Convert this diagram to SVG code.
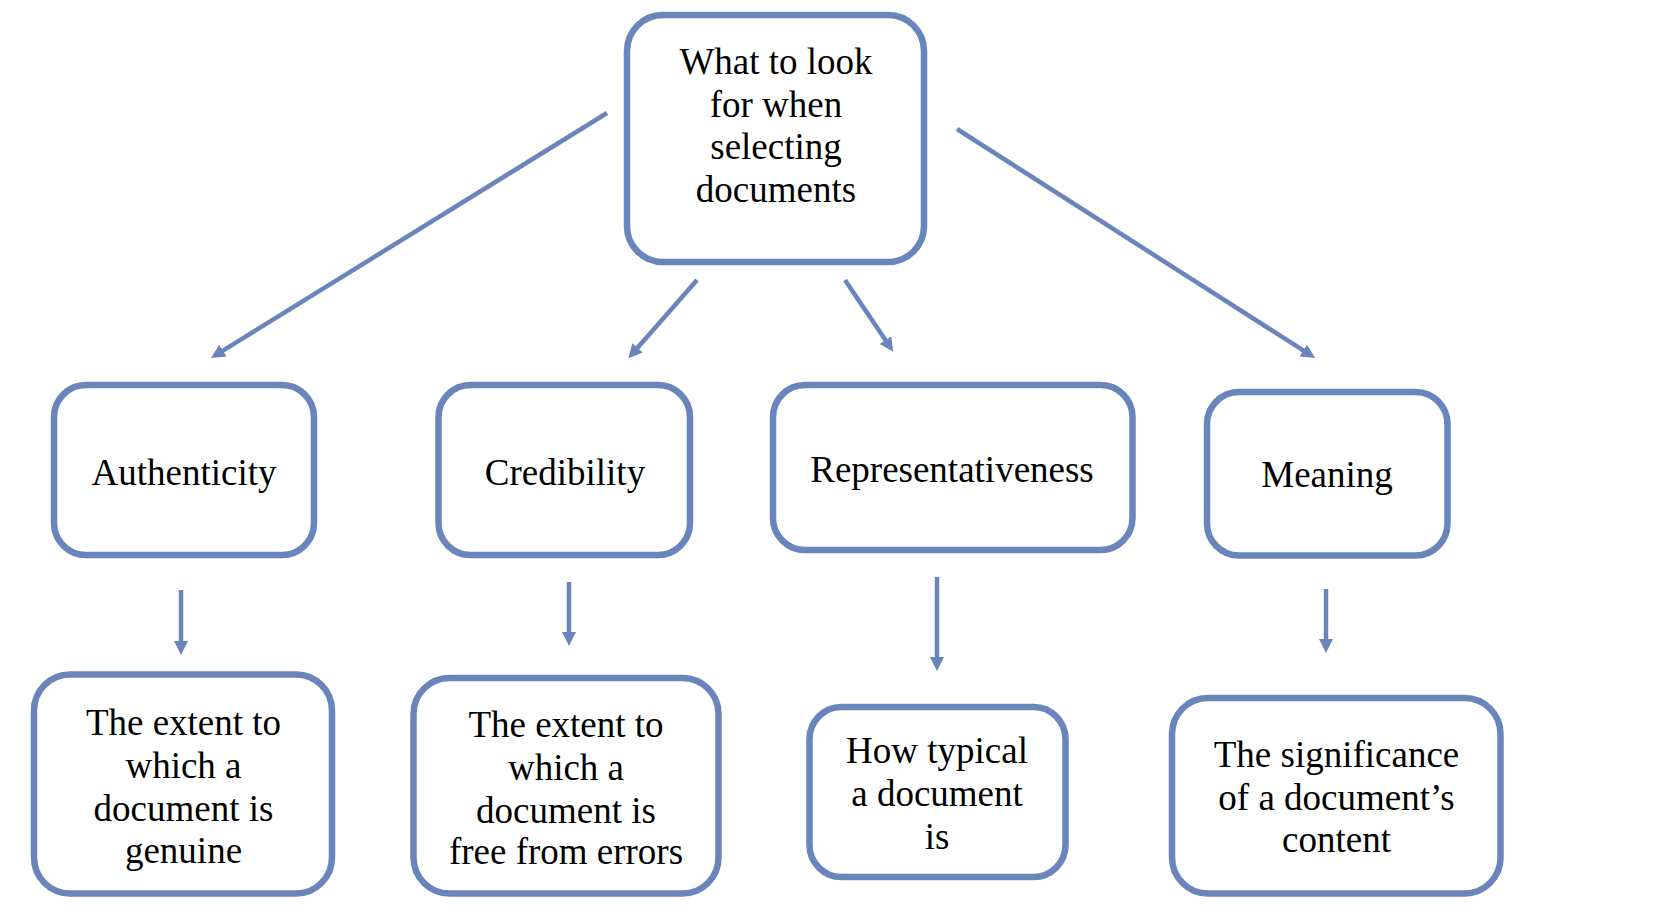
<svg xmlns="http://www.w3.org/2000/svg" width="1673" height="921" viewBox="0 0 1673 921">
<style>
.box{fill:#ffffff;stroke:#6A84BC;stroke-width:6.5}
.lbl{font-family:"Liberation Serif","Times New Roman",serif;font-size:37px;fill:#000000;text-anchor:middle}
.conn{stroke:#6A84BC;stroke-width:4.5;fill:none;marker-end:url(#ah)}
</style>
<defs>
<marker id="ah" markerUnits="userSpaceOnUse" viewBox="0 0 14 14" markerWidth="14" markerHeight="14" refX="6" refY="7" orient="auto">
<path d="M0,0 L14,7 L0,14 z" fill="#6A84BC"/>
</marker>
</defs>
<rect width="1673" height="921" fill="#ffffff"/>
<g id="connectors">
<line class="conn" x1="607" y1="113" x2="217.8" y2="353.8"/>
<line class="conn" x1="697" y1="280" x2="633.6" y2="352.3"/>
<line class="conn" x1="845" y1="280" x2="888.8" y2="345.1"/>
<line class="conn" x1="957" y1="129" x2="1308.3" y2="353.7"/>
<line class="conn" x1="181" y1="590" x2="181" y2="647"/>
<line class="conn" x1="569" y1="582" x2="569" y2="638"/>
<line class="conn" x1="937" y1="577" x2="937" y2="663"/>
<line class="conn" x1="1326" y1="589" x2="1326" y2="645"/>
</g>
<g id="root">
<rect class="box" x="627" y="15" width="297" height="247" rx="36"/>
<text class="lbl" x="776" y="74">What to look</text>
<text class="lbl" x="776" y="117">for when</text>
<text class="lbl" x="776" y="159">selecting</text>
<text class="lbl" x="776" y="202">documents</text>
</g>
<g id="authenticity">
<rect class="box" x="54" y="385" width="260" height="170" rx="32"/>
<text class="lbl" x="184" y="485">Authenticity</text>
</g>
<g id="credibility">
<rect class="box" x="438.5" y="385" width="251.5" height="170" rx="32"/>
<text class="lbl" x="565" y="485">Credibility</text>
</g>
<g id="representativeness">
<rect class="box" x="773" y="385" width="359.5" height="165" rx="32"/>
<text class="lbl" x="952" y="482">Representativeness</text>
</g>
<g id="meaning">
<rect class="box" x="1207" y="392" width="240.5" height="163.5" rx="32"/>
<text class="lbl" x="1327" y="487">Meaning</text>
</g>
<g id="genuine">
<rect class="box" x="34" y="674.5" width="298" height="219" rx="36"/>
<text class="lbl" x="183.5" y="735">The extent to</text>
<text class="lbl" x="183.5" y="778">which a</text>
<text class="lbl" x="183.5" y="821">document is</text>
<text class="lbl" x="183.5" y="863">genuine</text>
</g>
<g id="errors">
<rect class="box" x="413.5" y="678" width="305" height="215.5" rx="36"/>
<text class="lbl" x="566" y="737">The extent to</text>
<text class="lbl" x="566" y="780">which a</text>
<text class="lbl" x="566" y="823">document is</text>
<text class="lbl" x="566" y="864">free from errors</text>
</g>
<g id="typical">
<rect class="box" x="809.5" y="707" width="256" height="170" rx="32"/>
<text class="lbl" x="937" y="763">How typical</text>
<text class="lbl" x="937" y="806">a document</text>
<text class="lbl" x="937" y="849">is</text>
</g>
<g id="significance">
<rect class="box" x="1172" y="698" width="328.5" height="195.5" rx="36"/>
<text class="lbl" x="1336.5" y="767">The significance</text>
<text class="lbl" x="1336.5" y="810">of a document’s</text>
<text class="lbl" x="1336.5" y="852">content</text>
</g>
</svg>
